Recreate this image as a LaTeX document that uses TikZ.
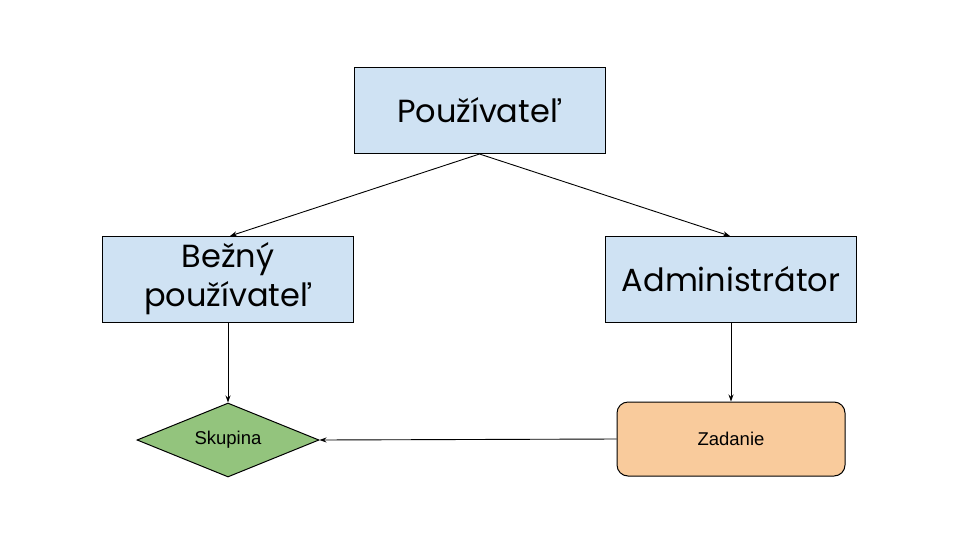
\documentclass[tikz,border=0pt]{standalone}
\usepackage{fontspec}
\setmainfont{Poppins}
\newfontfamily\arialf{Liberation Sans}
\usetikzlibrary{shapes.geometric,arrows.meta}
\definecolor{boxblue}{HTML}{CFE2F3}
\definecolor{dgreen}{HTML}{93C47D}
\definecolor{zorange}{HTML}{F9CB9C}
\tikzset{
  mainbox/.style={draw=black, fill=boxblue, line width=1pt, minimum width=251pt, minimum height=86pt, inner sep=0pt, align=center, font=\fontsize{32}{39}\selectfont},
  smalltxt/.style={font=\arialf\fontsize{18.5}{22}\selectfont},
  conn/.style={line width=0.9pt, -{Stealth[length=7pt,width=5pt]}}
}
\begin{document}
\begin{tikzpicture}[x=1pt,y=-1pt]
\useasboundingbox (0,0) rectangle (960,533);
\node[mainbox] (user) at (479.5,110.5) {Používateľ};
\node[mainbox] (bezny) at (228,279) {Bežný\\používateľ};
\node[mainbox] (admin) at (731,279) {Administrátor};
\node[diamond, draw=black, fill=dgreen, line width=1pt, minimum width=182pt, minimum height=74pt, inner sep=0pt, aspect=2.46, smalltxt] (skup) at (228,440) {Skupina};
\node[draw=black, fill=zorange, rounded corners=11pt, line width=1pt, minimum width=228pt, minimum height=74pt, inner sep=0pt, smalltxt] (zad) at (731,439) {Zadanie};
\draw[conn] (user.south) -- (230,236);
\draw[conn] (user.south) -- (730,236);
\draw[conn] (bezny.south) -- (skup.north);
\draw[conn] (admin.south) -- (zad.north);
\draw[conn] (zad.west) -- (skup.east);
\end{tikzpicture}
\end{document}
